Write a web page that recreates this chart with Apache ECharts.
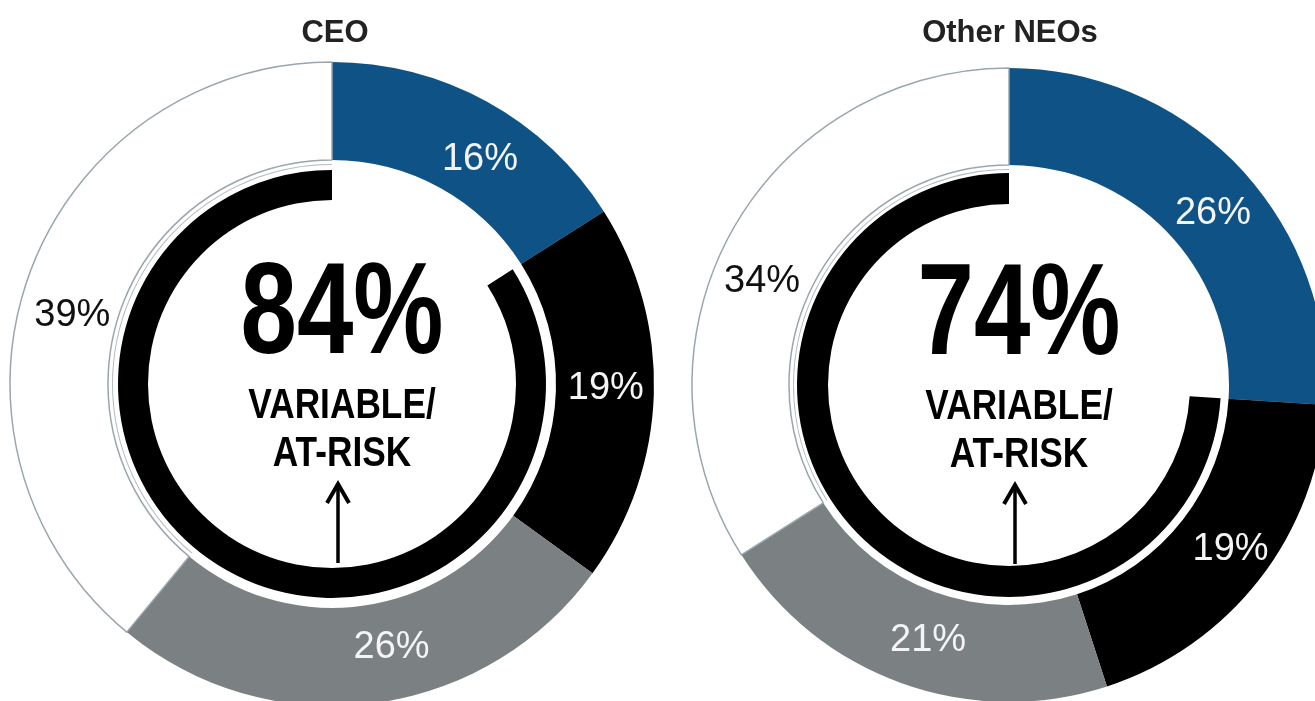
<!doctype html>
<html>
<head>
<meta charset="utf-8">
<script src="https://cdn.jsdelivr.net/npm/echarts@6/dist/echarts.min.js"></script>
<style>
  html, body { margin: 0; padding: 0; background: #fff; }
  #chart { width: 1315px; height: 701px; }
</style>
</head>
<body>
<div id="chart"></div>
<script>
  // pay mix, in percent of target pay
  var parts = ['Base salary', 'Annual incentive', 'Performance shares', 'Restricted stock'];
  var ceoValues = [16, 19, 26, 39];
  var neoValues = [26, 19, 21, 34];
  var panelNames = ['CEO', 'Other NEOs'];
  var centerText = ['VARIABLE/', 'AT-RISK'];

  var colors = ['#0f5386', '#000000', '#7b8083', '#ffffff'];
  var labelColors = ['#f4f4f4', '#f4f4f4', '#f4f4f4', '#111111'];
  var font = '"Liberation Sans", Arial, sans-serif';

  // layout of each donut; nudge = small label shifts to sit like the original
  var panels = [
    { values: ceoValues, name: panelNames[0], cx: 332, cy: 384, ring: [224, 322], arc: [184, 214], tx: 330,
      nudge: [[15, 17], [-2, -4], [25, -10], [0, 25]] },
    { values: neoValues, name: panelNames[1], cx: 1009, cy: 385, ring: [220, 317], arc: [181, 212], tx: 1005,
      nudge: [[6, 14], [7, -2], [11, 0], [-9, 27]] }
  ];

  var chart = echarts.init(document.getElementById('chart'));
  var series = [], graphic = [], titles = [];

  panels.forEach(function (p) {
    var variable = 0;
    for (var i = 1; i < p.values.length; i++) variable += p.values[i];

    series.push({
      type: 'pie',
      silent: true,
      center: [p.cx, p.cy],
      radius: p.ring,
      startAngle: 90,
      clockwise: true,
      avoidLabelOverlap: false,
      labelLine: { show: false },
      label: {
        show: true,
        position: 'inside',
        formatter: '{c}%',
        fontFamily: font,
        fontSize: 38
      },
      data: p.values.map(function (v, i) {
        return {
          name: parts[i],
          value: v,
          itemStyle: i === 3
            ? { color: colors[i], borderColor: '#9aa6ad', borderWidth: 1.5 }
            : { color: colors[i], borderWidth: 0 },
          label: { color: labelColors[i], offset: p.nudge[i] }
        };
      })
    });

    // thin grey edge that follows the white slice just outside the black arc
    series.push({
      type: 'pie',
      silent: true,
      center: [p.cx, p.cy],
      radius: [p.ring[0] - 5, p.ring[0] - 4],
      startAngle: 90,
      clockwise: true,
      label: { show: false },
      labelLine: { show: false },
      data: p.values.map(function (v, i) {
        return { name: parts[i], value: v, itemStyle: { color: i === 3 ? '#b3bcc1' : 'rgba(0,0,0,0)' } };
      })
    });

    // inner black arc = everything but base salary
    series.push({
      type: 'pie',
      silent: true,
      center: [p.cx, p.cy],
      radius: p.arc,
      startAngle: 90,
      clockwise: true,
      label: { show: false },
      labelLine: { show: false },
      data: [
        { name: 'Fixed', value: p.values[0], itemStyle: { color: 'rgba(0,0,0,0)' } },
        { name: 'Variable', value: variable, itemStyle: { color: '#000' } }
      ]
    });

    titles.push({
      text: p.name,
      left: p.tx,
      top: 13,
      textAlign: 'center',
      textStyle: { fontFamily: font, fontWeight: 'bold', fontSize: 31, color: '#222' }
    });

    graphic.push(
      { type: 'text', x: p.cx + 10, y: p.cy - 67, scaleX: 0.78, silent: true,
        style: { text: variable + '%', fontFamily: font, fontWeight: 'bold', fontSize: 130, fill: '#000', align: 'center', verticalAlign: 'middle' } },
      { type: 'text', x: p.cx + 10, y: p.cy + 22, scaleX: 0.84, silent: true,
        style: { text: centerText[0], fontFamily: font, fontWeight: 'bold', fontSize: 42, fill: '#000', align: 'center', verticalAlign: 'middle' } },
      { type: 'text', x: p.cx + 10, y: p.cy + 70, scaleX: 0.84, silent: true,
        style: { text: centerText[1], fontFamily: font, fontWeight: 'bold', fontSize: 42, fill: '#000', align: 'center', verticalAlign: 'middle' } },
      // arrow
      { type: 'polyline', silent: true,
        shape: { points: [[p.cx + 6, p.cy + 179], [p.cx + 6, p.cy + 100]] },
        style: { stroke: '#000', lineWidth: 3.5 } },
      { type: 'polyline', silent: true,
        shape: { points: [[p.cx - 5, p.cy + 119], [p.cx + 6, p.cy + 100], [p.cx + 17, p.cy + 119]] },
        style: { stroke: '#000', lineWidth: 4, fill: null } }
    );
  });

  chart.setOption({
    backgroundColor: '#fff',
    animation: false,
    title: titles,
    series: series,
    graphic: graphic
  });
</script>
</body>
</html>
